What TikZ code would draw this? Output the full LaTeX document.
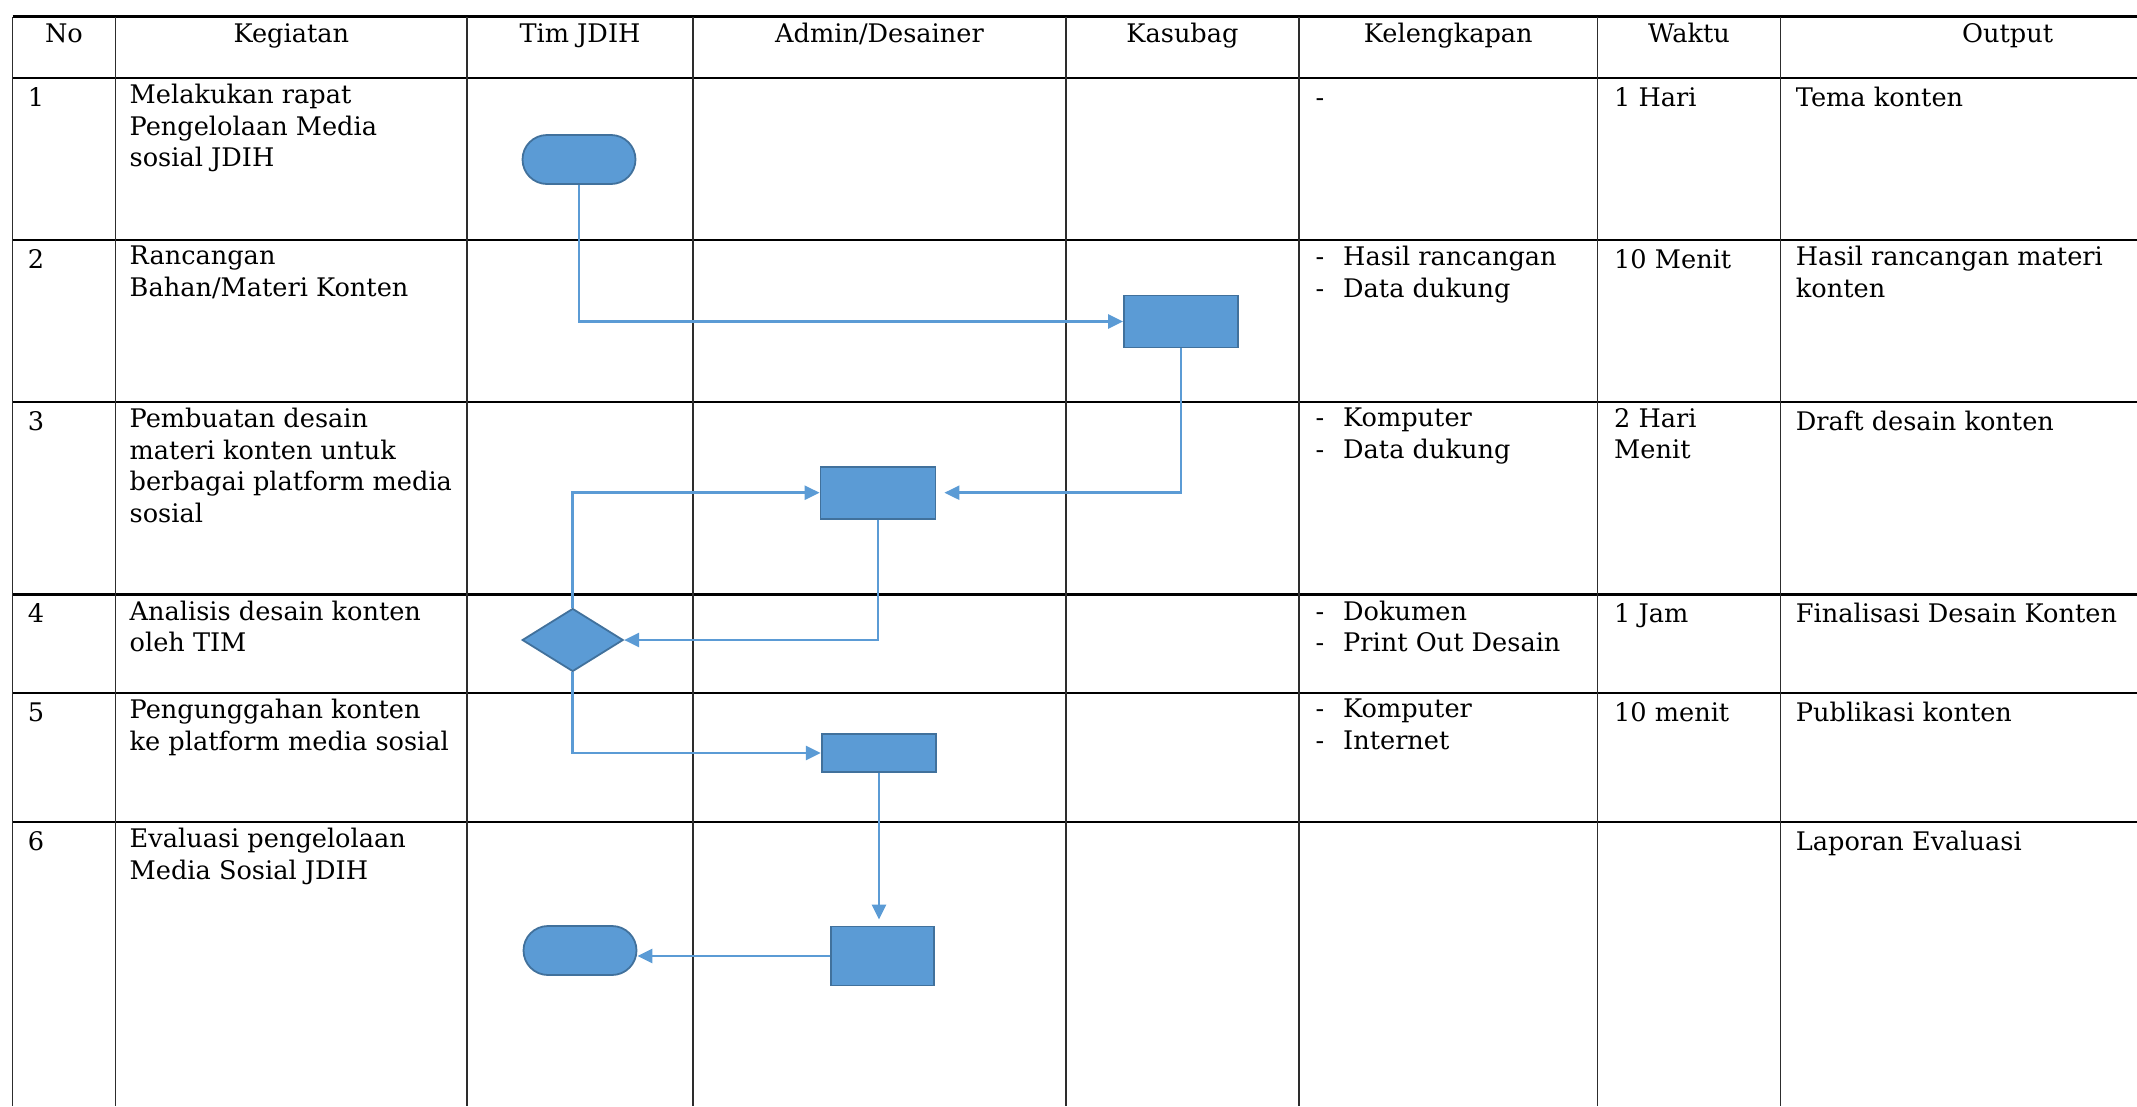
\documentclass[tikz,border=0pt]{standalone}
\usepackage{fontspec}
\setmainfont{DejaVu Serif}
\usetikzlibrary{arrows.meta,shapes.geometric,shapes.misc}
\definecolor{SopBlue}{RGB}{91,155,213}
\definecolor{SopEdge}{RGB}{65,113,156}
\definecolor{SopGrid}{RGB}{45,45,45}
\newcommand{\dashitem}[1]{\makebox[27.5pt][l]{-}#1}
\tikzset{
  sop/terminal/.style={
    rounded rectangle,
    draw=SopEdge,
    line width=1.8pt,
    fill=SopBlue,
    minimum width=113pt,
    minimum height=49pt,
    inner sep=0pt
  },
  sop/proc/.style={
    rectangle,
    draw=SopEdge,
    line width=1.8pt,
    fill=SopBlue,
    inner sep=0pt
  },
  sop/decision/.style={
    diamond,
    draw=SopEdge,
    line width=1.8pt,
    fill=SopBlue,
    minimum width=101pt,
    minimum height=63pt,
    inner sep=0pt
  },
  sop/flow/.style={-{Triangle[length=15pt,width=14pt]}, line width=2.5pt, draw=SopBlue},
  sop/rowline/.style={line width=2.2pt, draw=black},
  sop/colline/.style={line width=1.4pt, draw=SopGrid},
  sop/head/.style={anchor=base, inner sep=0pt, font=\fontsize{25.6}{31.5}\selectfont},
  sop/cell/.style={anchor=north west, align=left, inner sep=0pt,
    font=\fontsize{25.6}{31.5}\selectfont, execute at begin node=\strut}
}

\begin{document}
\begin{tikzpicture}[x=1pt,y=-1pt]
  \useasboundingbox (0,0) rectangle (2137,1106);
  % grid
  \draw[sop/rowline] (12.5,16.5) -- (2137,16.5) (12.5,78) -- (2137,78)
    (12.5,240) -- (2137,240) (12.5,402) -- (2137,402) (12.5,594.5) -- (2137,594.5)
    (12.5,693) -- (2137,693) (12.5,822) -- (2137,822);
  \draw[sop/colline] (12.5,16.5) -- (12.5,1106) (115.5,16.5) -- (115.5,1106)
    (467,16.5) -- (467,1106) (693,16.5) -- (693,1106) (1066,16.5) -- (1066,1106)
    (1299,16.5) -- (1299,1106) (1597.5,16.5) -- (1597.5,1106) (1780.5,16.5) -- (1780.5,1106);
  % header
  \node[sop/head] (hno) at (64,42) {No};
  \node[sop/head] (hkeg) at (291.3,42) {Kegiatan};
  \node[sop/head] (htim) at (580,42) {Tim JDIH};
  \node[sop/head] (hadm) at (879.5,42) {Admin/Desainer};
  \node[sop/head] (hkas) at (1182.5,42) {Kasubag};
  \node[sop/head] (hkel) at (1448.3,42) {Kelengkapan};
  \node[sop/head] (hwak) at (1689,42) {Waktu};
  \node[sop/head] (hout) at (2007.6,42) {Output};
  % row 1
  \node[sop/cell] (no1) at (27.7,84) {1};
  \node[sop/cell] (keg1) at (129.5,84) {Melakukan rapat\\Pengelolaan Media\\sosial JDIH};
  \node[sop/cell] (kel1) at (1315.5,84) {-};
  \node[sop/cell] (wak1) at (1614,84) {1 Hari};
  \node[sop/cell] (out1) at (1795.7,84) {Tema konten};
  % row 2
  \node[sop/cell] (no2) at (27.7,246) {2};
  \node[sop/cell] (keg2) at (129.5,246) {Rancangan\\Bahan/Materi Konten};
  \node[sop/cell] (kel2) at (1315.5,246) {\dashitem{Hasil rancangan}\\\dashitem{Data dukung}};
  \node[sop/cell] (wak2) at (1614,246) {10 Menit};
  \node[sop/cell] (out2) at (1795.7,246) {Hasil rancangan materi\\konten};
  % row 3
  \node[sop/cell] (no3) at (27.7,408) {3};
  \node[sop/cell] (keg3) at (129.5,408) {Pembuatan desain\\materi konten untuk\\berbagai platform media\\sosial};
  \node[sop/cell] (kel3) at (1315.5,408) {\dashitem{Komputer}\\\dashitem{Data dukung}};
  \node[sop/cell] (wak3) at (1614,408) {2 Hari\\Menit};
  \node[sop/cell] (out3) at (1795.7,408) {Draft desain konten};
  % row 4
  \node[sop/cell] (no4) at (27.7,600.5) {4};
  \node[sop/cell] (keg4) at (129.5,600.5) {Analisis desain konten\\oleh TIM};
  \node[sop/cell] (kel4) at (1315.5,600.5) {\dashitem{Dokumen}\\\dashitem{Print Out Desain}};
  \node[sop/cell] (wak4) at (1614,600.5) {1 Jam};
  \node[sop/cell] (out4) at (1795.7,600.5) {Finalisasi Desain Konten};
  % row 5
  \node[sop/cell] (no5) at (27.7,699) {5};
  \node[sop/cell] (keg5) at (129.5,699) {Pengunggahan konten\\ke platform media sosial};
  \node[sop/cell] (kel5) at (1315.5,699) {\dashitem{Komputer}\\\dashitem{Internet}};
  \node[sop/cell] (wak5) at (1614,699) {10 menit};
  \node[sop/cell] (out5) at (1795.7,699) {Publikasi konten};
  % row 6
  \node[sop/cell] (no6) at (27.7,828) {6};
  \node[sop/cell] (keg6) at (129.5,828) {Evaluasi pengelolaan\\Media Sosial JDIH};
  \node[sop/cell] (out6) at (1795.7,828) {Laporan Evaluasi};
  % flow shapes
  \node[sop/terminal] (start) at (579,159.5) {};
  \node[sop/proc,minimum width=114pt,minimum height=52pt] (rancang) at (1181,321.5) {};
  \node[sop/proc,minimum width=115pt,minimum height=52pt] (desain) at (878,492.7) {};
  \node[sop/decision] (analisis) at (572.7,640) {};
  \node[sop/proc,minimum width=114.6pt,minimum height=38pt] (unggah) at (879,753) {};
  \node[sop/proc,minimum width=103pt,minimum height=59pt] (evaluasi) at (882.6,956) {};
  \node[sop/terminal] (selesai) at (580,950.5) {};
  % connectors
  \draw[sop/flow] (start) |- (rancang);
  \draw[sop/flow,shorten >=8pt] (rancang) |- (desain);
  \draw[sop/flow] (analisis) |- (desain);
  \draw[sop/flow] (desain) |- (analisis);
  \draw[sop/flow] (analisis) |- (unggah);
  \draw[sop/flow,shorten >=6pt] (unggah) -- (unggah |- evaluasi.north);
  \draw[sop/flow] (evaluasi.west) -- (evaluasi.west -| selesai.east);
\end{tikzpicture}
\end{document}
